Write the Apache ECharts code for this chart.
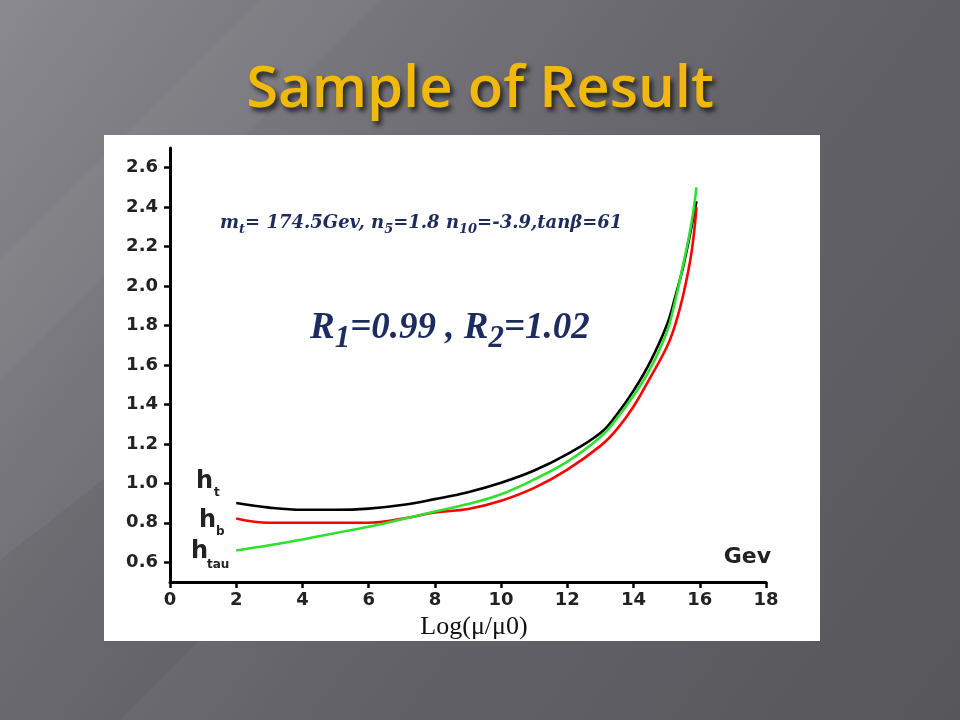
<!DOCTYPE html>
<html><head><meta charset="utf-8">
<script src="https://cdn.jsdelivr.net/npm/echarts@6/dist/echarts.min.js"></script>
<style>html,body{margin:0;padding:0;overflow:hidden;} #c{width:960px;height:720px;}</style>
</head><body><div id="c"></div>
<script>
// ---- data ----
const xValues    = [2, 3, 4, 5, 6, 7, 8, 9, 10, 11, 12, 13, 13.5, 14, 14.5, 15, 15.25, 15.5, 15.75, 15.9];
const htValues   = [0.90, 0.877, 0.866, 0.866, 0.872, 0.89, 0.92, 0.955, 1.003, 1.065, 1.148, 1.255, 1.35, 1.47, 1.615, 1.80, 1.94, 2.10, 2.30, 2.43];
const hbValues   = [0.822, 0.80, 0.80, 0.80, 0.80, 0.82, 0.852, 0.87, 0.912, 0.977, 1.07, 1.19, 1.275, 1.39, 1.535, 1.69, 1.80, 1.955, 2.17, 2.40];
const htauValues = [0.66, 0.686, 0.715, 0.748, 0.78, 0.818, 0.857, 0.895, 0.945, 1.02, 1.11, 1.235, 1.33, 1.445, 1.58, 1.765, 1.92, 2.11, 2.32, 2.50];
const yTickValues = [0.6, 0.8, 1.0, 1.2, 1.4, 1.6, 1.8, 2.0, 2.2, 2.4, 2.6];
const xTickLabels = ['0','2','4','6','8','10','12','14','16','18'];
const titleText = 'Sample of Result';
const xAxisName = 'Log(\u03bc/\u03bc0)';
const unitLabel = 'Gev';

function pairs(ys){ return xValues.map((x,i)=>[x, ys[i]]); }

const chart = echarts.init(document.getElementById('c'), null, {renderer:'canvas'});
const tickFont = 'DejaVu Sans';
const navy = '#1c2c5e';
const serif = '"Liberation Serif", "DejaVu Serif", serif';
const wideSerif = '"DejaVu Serif", serif';

const option = {
  animation: false,
  backgroundColor: new echarts.graphic.LinearGradient(0, 0, 1, 1, [
    {offset: 0, color: '#8a898f'},
    {offset: 0.3, color: '#737278'},
    {offset: 0.55, color: '#646369'},
    {offset: 1, color: '#57565b'}
  ]),
  title: {
    text: titleText,
    left: 'center',
    top: 56,
    textStyle: {
      fontFamily: '"Open Sans", "Noto Sans", sans-serif',
      fontSize: 58,
      fontWeight: 600,
      color: '#f0b90c',
      textShadowColor: 'rgba(0,0,0,0.7)',
      textShadowBlur: 5,
      textShadowOffsetX: 3,
      textShadowOffsetY: 4
    }
  },
  grid: {left: 170, right: 194, top: 148, bottom: 138, containLabel: false},
  xAxis: {
    type: 'value', min: 0, max: 18, interval: 2,
    name: xAxisName, nameLocation: 'middle', nameGap: 30,
    nameTextStyle: {fontFamily: serif, fontSize: 26, color: '#111', padding: [0,0,0,12]},
    axisLine: {show: true, onZero: false, lineStyle: {color: '#000', width: 3}},
    axisTick: {show: true, inside: false, length: 6, lineStyle: {color: '#000', width: 2.5}},
    axisLabel: {margin: 9, fontFamily: tickFont, fontWeight: 'bold', fontSize: 18, color: '#222',
      formatter: v => xTickLabels[Math.round(v/2)]},
    splitLine: {show: false}
  },
  yAxis: {
    type: 'value', min: 0.5, max: 2.7,
    axisLine: {show: true, onZero: false, lineStyle: {color: '#000', width: 3}},
    axisTick: {show: true, inside: false, length: 6, customValues: yTickValues, lineStyle: {color: '#000', width: 2.5}},
    axisLabel: {margin: 12, fontFamily: tickFont, fontWeight: 'bold', fontSize: 18, color: '#222',
      customValues: yTickValues, formatter: v => v.toFixed(1)},
    splitLine: {show: false}
  },
  graphic: [
    {type: 'polygon', z: -20, silent: true,
      shape: {points: [[0, 260], [0, 380], [380, 0], [260, 0]]},
      style: {fill: 'rgba(255,255,255,0.03)'}},
    {type: 'polygon', z: -20, silent: true,
      shape: {points: [[0, 560], [0, 720], [120, 720], [540, 300], [540, 140]]},
      style: {fill: 'rgba(0,0,0,0.05)'}},
    {type: 'rect', z: -10, silent: true,
      shape: {x: 104, y: 135, width: 716, height: 506},
      style: {fill: '#ffffff'}},
    {type: 'text', z: 10, x: 220, y: 218,
      style: {
        text: '{i|m}{s|t}{i|= 174.5Gev, n}{s|5}{i|=1.8 n}{s|10}{i|=-3.9,tan\u03b2=61}',
        rich: {
          i: {fontFamily: wideSerif, fontStyle: 'italic', fontWeight: 'bold', fontSize: 18, lineHeight: 18, fill: navy, verticalAlign: 'bottom', padding: [0,0,4,0]},
          s: {fontFamily: wideSerif, fontStyle: 'italic', fontWeight: 'bold', fontSize: 13, lineHeight: 13, fill: navy, verticalAlign: 'bottom'}
        }
      }},
    {type: 'text', z: 10, x: 310, y: 317,
      style: {
        text: '{i|R}{s|1}{i|=0.99 , R}{s|2}{i|=1.02}',
        rich: {
          i: {fontFamily: serif, fontStyle: 'italic', fontWeight: 'bold', fontSize: 37, lineHeight: 37, fill: navy, verticalAlign: 'bottom', padding: [0,0,7,0]},
          s: {fontFamily: serif, fontStyle: 'italic', fontWeight: 'bold', fontSize: 31, lineHeight: 31, fill: navy, verticalAlign: 'bottom'}
        }
      }},
    {type: 'text', z: 10, x: 196, y: 470, style: {text: 'h', font: 'bold 24px "DejaVu Sans"', fill: '#222'}},
    {type: 'text', z: 10, x: 214, y: 487, style: {text: 't', font: 'bold 12px "DejaVu Sans"', fill: '#222'}},
    {type: 'text', z: 10, x: 199, y: 509, style: {text: 'h', font: 'bold 24px "DejaVu Sans"', fill: '#222'}},
    {type: 'text', z: 10, x: 216, y: 526, style: {text: 'b', font: 'bold 12px "DejaVu Sans"', fill: '#222'}},
    {type: 'text', z: 10, x: 191, y: 540, style: {text: 'h', font: 'bold 24px "DejaVu Sans"', fill: '#222'}},
    {type: 'text', z: 10, x: 207, y: 559, style: {text: 'tau', font: 'bold 12px "DejaVu Sans"', fill: '#222'}},
    {type: 'text', z: 10, x: 771, y: 546, style: {text: unitLabel, font: 'bold 22px "DejaVu Sans"', fill: '#222', align: 'right'}}
  ],
  series: [
    {name: 'h_t', type: 'line', data: pairs(htValues), showSymbol: false, smooth: 0.4,
      lineStyle: {color: '#000000', width: 2.6}, z: 3},
    {name: 'h_b', type: 'line', data: pairs(hbValues), showSymbol: false, smooth: 0.4,
      lineStyle: {color: '#ff0000', width: 2.6}, z: 4},
    {name: 'h_tau', type: 'line', data: pairs(htauValues), showSymbol: false, smooth: 0.4,
      lineStyle: {color: '#2fe02f', width: 2.6}, z: 5}
  ]
};
chart.setOption(option);
</script>
</body></html>
